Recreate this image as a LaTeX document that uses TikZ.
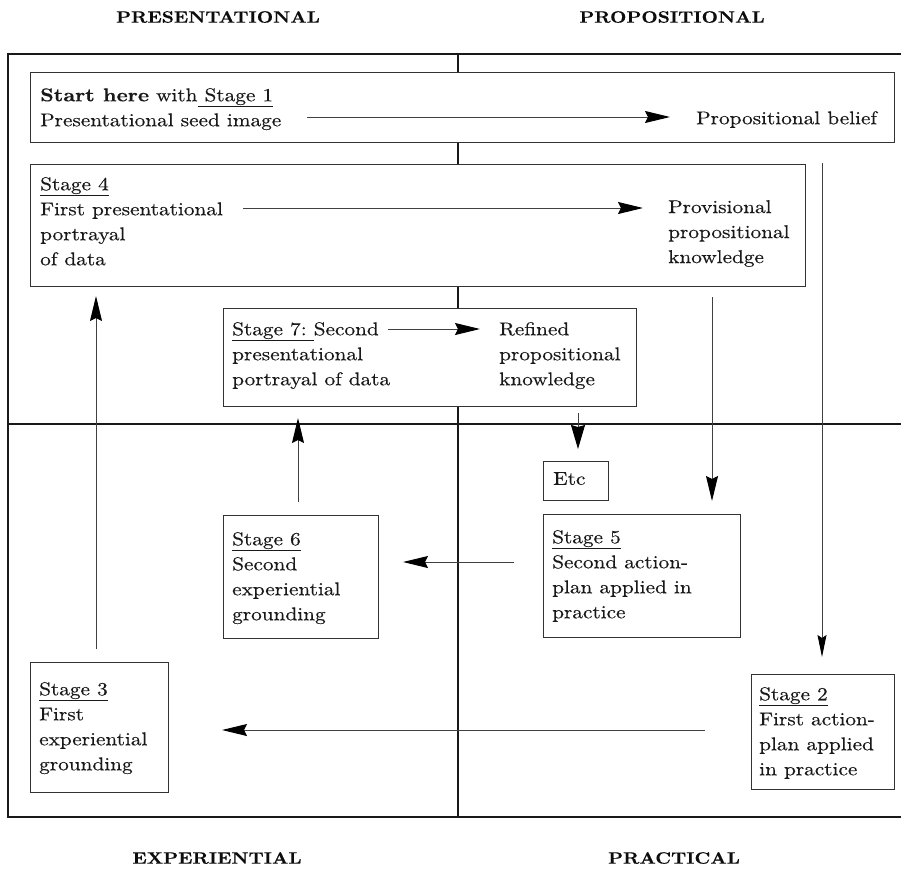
\documentclass[tikz,border=0pt]{standalone}
\usepackage{fontspec}
\setmainfont{lmroman10-regular.otf}[FakeStretch=1.15,FakeBold=0.35,BoldFont=lmroman10-bold.otf]
\usetikzlibrary{arrows.meta}
\tikzset{
  frameline/.style={line width=2pt,black!90},
  box/.style={draw=black!80,line width=1.2pt,fill=white,rectangle,inner sep=0pt,anchor=north west},
  txt/.style={inner sep=0pt,anchor=north west,align=left,font=\fontsize{18.5}{25}\selectfont,text=black!90},
  head/.style={inner sep=0pt,font=\fontsize{16.5}{18}\selectfont\bfseries,text=black!95},
  arr/.style={line width=1pt,black!75,-{Stealth[length=25pt,width=12pt,inset=3pt,black]}},
  plain/.style={line width=1pt,black!80},
}
\begin{document}
\begin{tikzpicture}[x=1pt,y=-1pt]
\useasboundingbox (0,0) rectangle (901,871);
% headings
\node[head] (hpres) at (218,17) {PRESENTATIONAL};
\node[head] (hprop) at (672,17) {PROPOSITIONAL};
\node[head] (hexp) at (217,858) {EXPERIENTIAL};
\node[head] (hprac) at (674,858) {PRACTICAL};
% frame and dividers
\draw[frameline] (903,54) -- (8,54) -- (8,817) -- (903,817);
\draw[frameline] (458,54) -- (458,817);
\draw[frameline] (8,424) -- (903,424);
% boxes
\node[box,minimum width=864,minimum height=70] (b1) at (30,72) {};
\node[box,minimum width=775,minimum height=122] (b4) at (30,164) {};
\node[box,minimum width=413,minimum height=98] (b7) at (223,308) {};
\node[box,minimum width=65,minimum height=39] (betc) at (543,461) {};
\node[box,minimum width=155,minimum height=123] (b6) at (223,515) {};
\node[box,minimum width=197,minimum height=123] (b5) at (543,514) {};
\node[box,minimum width=138,minimum height=130] (b3) at (30,662) {};
\node[box,minimum width=143,minimum height=115] (b2) at (751,674) {};
% texts
\node[txt] (t1) at (40,88) {\textbf{Start here} with\underline{ Stage 1}\\Presentational seed image};
\node[txt] (t1r) at (696,111) {Propositional belief};
\node[txt] (t4) at (40,177) {\underline{Stage 4}\\First presentational\\portrayal\\of data};
\node[txt] (t4r) at (668,200) {Provisional\\propositional\\knowledge};
\node[txt] (t7) at (232,322) {\underline{Stage 7:\ }Second\\presentational\\portrayal of data};
\node[txt] (t7r) at (499,322) {Refined\\propositional\\knowledge};
\node[txt] (tetc) at (553,472) {Etc};
\node[txt] (t6) at (232,532) {\underline{Stage 6}\\Second\\experiential\\grounding};
\node[txt] (t5) at (552,530) {\underline{Stage 5}\\Second action-\\plan applied in\\practice};
\node[txt] (t3) at (39,682) {\underline{Stage 3}\\First\\experiential\\grounding};
\node[txt] (t2) at (759,687) {\underline{Stage 2}\\First action-\\plan applied\\in practice};
% connector end points
\coordinate (a1s) at (307,117); \coordinate (a1e) at (670,117);
\coordinate (a4s) at (243,208); \coordinate (a4e) at (643,208);
\coordinate (a7s) at (388,329); \coordinate (a7e) at (480,329);
\coordinate (aes) at (578,413); \coordinate (aee) at (578,449);
\coordinate (a45s) at (712,297); \coordinate (a45e) at (712,501);
\coordinate (a12s) at (822,163); \coordinate (a12e) at (822,657);
\coordinate (a56s) at (514,562); \coordinate (a56e) at (403,562);
\coordinate (a23s) at (705,730); \coordinate (a23e) at (222,730);
\coordinate (a34s) at (96,649); \coordinate (a34e) at (96,296);
\coordinate (a67s) at (298,502); \coordinate (a67e) at (298,418);
% connectors
\draw[arr] (a1s) -- (a1e);
\draw[arr] (a4s) -- (a4e);
\draw[arr] (a7s) -- (a7e);
\draw[arr,-{Stealth[length=24pt,width=14pt,inset=2pt,black]}] (aes) -- (aee);
\draw[arr] (a45s) -- (a45e);
\draw[arr,-{Stealth[length=22pt,width=9pt,inset=3pt,black]}] (a12s) -- (a12e);
\draw[arr] (a56s) -- (a56e);
\draw[arr] (a23s) -- (a23e);
\draw[arr] (a34s) -- (a34e);
\draw[arr] (a67s) -- (a67e);
\end{tikzpicture}
\end{document}
